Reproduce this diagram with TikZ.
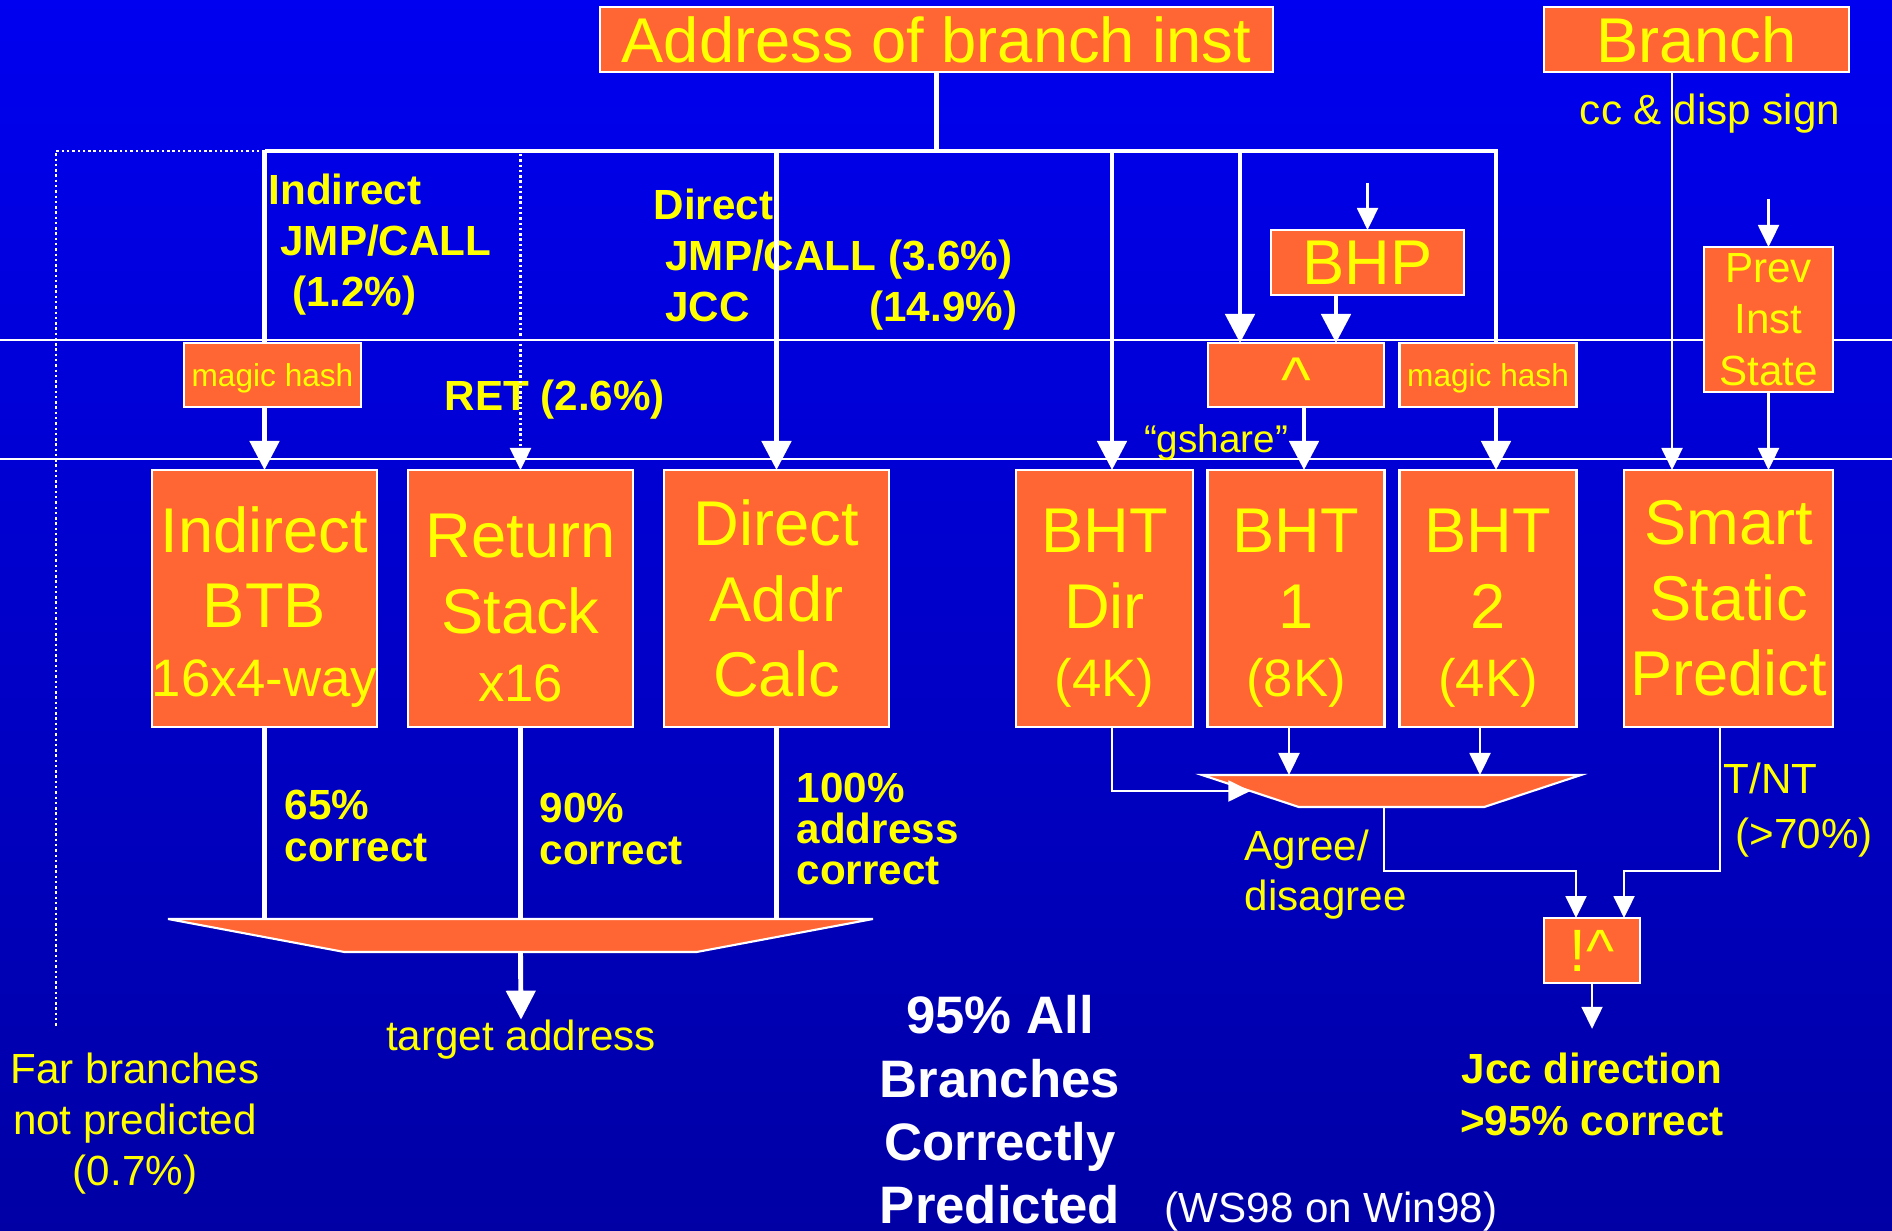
\documentclass[tikz,border=0pt]{standalone}
\usepackage{fontspec}
\setmainfont{Liberation Sans}
\usetikzlibrary{arrows.meta, shapes.geometric}
\definecolor{slideblue}{RGB}{0,0,240}
\definecolor{slidedeep}{RGB}{0,0,165}
\definecolor{unitorange}{RGB}{255,102,51}
\definecolor{labelyellow}{RGB}{255,255,0}
\newcommand{\lowtop}{\rule{0pt}{17.9pt}}

\begin{document}
\begin{tikzpicture}[
  y=-1cm,
  unit/.style={draw=white, fill=unitorange, text=labelyellow, line width=0.6pt, inner sep=0pt, outer sep=0pt, align=center},
  bigunit/.style={unit, font=\fontsize{18}{21.5}\selectfont},
  hashunit/.style={unit, font=\fontsize{9}{11}\selectfont, text depth=0pt, minimum width=1.77cm, minimum height=0.64cm},
  tableunit/.style={bigunit, minimum width=1.77cm, minimum height=2.57cm},
  mux/.style={trapezium, trapezium stretches body=true, draw=white, fill=unitorange, line width=0.6pt, inner xsep=1pt, outer sep=0pt},
  bus/.style={draw=white, line width=1.4pt},
  busarrow/.style={bus, -{Triangle[width=0.29cm, length=0.29cm]}},
  wire/.style={draw=white, line width=0.6pt},
  wirearrow/.style={wire, -{Triangle[width=0.21cm, length=0.22cm]}},
  farwire/.style={wire, line width=0.7pt, dash pattern=on 0.7pt off 0.8pt},
  note/.style={text=labelyellow, font=\bfseries\fontsize{12}{14.5}\selectfont, align=left, inner sep=0pt},
  scorelbl/.style={note, font=\bfseries\fontsize{12}{11.7}\selectfont},
  plain/.style={text=labelyellow, font=\fontsize{12}{14.5}\selectfont, align=left, inner sep=0pt}
]
\useasboundingbox (0,0) rectangle (18.92,12.31);
\shade[top color=slideblue, bottom color=slidedeep] (0,0) rectangle (18.92,12.31);
\draw[white, line width=0.3pt] (0,3.40) -- (18.92,3.40);
\draw[white, line width=0.3pt] (0,4.59) -- (18.92,4.59);

\node[bigunit, minimum width=6.73cm, minimum height=0.65cm] (addr) at (9.365,0.395) {Address of branch inst};
\node[bigunit, minimum width=3.05cm, minimum height=0.65cm] (branch) at (16.965,0.395) {Branch};
\node[hashunit] (hashA) at (2.725,3.75) {magic hash};
\node[bigunit, minimum width=1.93cm, minimum height=0.65cm] (bhp) at (13.675,2.625) {BHP};
\node[bigunit, text height=15pt, text depth=0pt, minimum width=1.76cm, minimum height=0.64cm] (xor) at (12.96,3.75) {\textasciicircum};
\node[hashunit] (hashB) at (14.88,3.75) {magic hash};
\node[unit, font=\fontsize{12}{14.6}\selectfont, minimum width=1.29cm, minimum height=1.45cm] (prev) at (17.685,3.195) {Prev\\Inst\\State};

\node[tableunit, minimum width=2.25cm] (btb) at (2.645,5.985) {\lowtop Indirect\\BTB\\[-2pt]{\fontsize{15}{18}\selectfont 16x4-way}};
\node[tableunit, minimum width=2.25cm] (ras) at (5.205,5.985) {\lowtop Return\\Stack\\[-2pt]{\fontsize{15}{18}\selectfont x16}};
\node[tableunit, minimum width=2.25cm] (dac) at (7.765,5.985) {Direct\\Addr\\Calc};
\foreach \x/\lbl/\id/\sz in {11.045/Dir/bhtDir/4K, 12.96/1/bhtOne/8K, 14.88/2/bhtTwo/4K}
  \node[tableunit] (\id) at (\x,5.985) {\lowtop BHT\\\lbl\\[-2pt]{\fontsize{15}{18}\selectfont(\sz)}};
\node[tableunit, minimum width=2.09cm] (smart) at (17.285,5.985) {Smart\\Static\\Predict};

\node[mux, inner ysep=0.165cm, minimum width=7.05cm, trapezium left angle=169.4, trapezium right angle=169.4] (addrMux) at (5.205,9.355) {};
\node[mux, inner ysep=0.16cm, minimum width=3.79cm, trapezium left angle=161.7, trapezium right angle=161.7] (dirMux) at (13.915,7.91) {};
\node[unit, font=\fontsize{17}{20}\selectfont, minimum width=0.96cm, minimum height=0.65cm] (combine) at (15.92,9.505) {!\textasciicircum};

\node[note, anchor=west] (indLbl) at (2.68,2.45) {Indirect\\\hspace*{0.28em}JMP/CALL\\\hspace*{0.56em}(1.2\%)};
\node[note, anchor=west] (dirLbl) at (6.53,2.60) {Direct\\\hspace*{0.28em}JMP/CALL (3.6\%)\\\hspace*{0.28em}\makebox[2.04cm][l]{JCC}(14.9\%)};
\node[note, anchor=west] (retLbl) at (4.44,4.00) {RET (2.6\%)};
\node[plain] (ccLbl) at (17.10,1.135) {cc \& disp sign};
\node[plain, font=\fontsize{11}{13}\selectfont] (gshareLbl) at (12.16,4.43) {``gshare''};
\node[scorelbl, anchor=west] (btbPct) at (2.84,8.26) {65\%\\correct};
\node[scorelbl, anchor=west] (rasPct) at (5.39,8.29) {90\%\\correct};
\node[scorelbl, anchor=west] (dacPct) at (7.96,8.29) {100\%\\address\\correct};
\node[plain] (tgtLbl) at (5.21,10.40) {target address};
\node[plain, align=center] (farLbl) at (1.35,11.24) {Far branches\\not predicted\\(0.7\%)};
\node[plain, anchor=west, font=\fontsize{12}{14.2}\selectfont] (agreeLbl) at (12.44,8.745) {Agree/\\disagree};
\node[plain, anchor=west, font=\fontsize{12}{15.6}\selectfont] (tntLbl) at (17.23,8.10) {T/NT\\\hspace*{0.28em}(>70\%)};
\node[note, align=center, font=\bfseries\fontsize{12}{14.8}\selectfont] (jccLbl) at (15.92,10.94) {Jcc direction\\>95\% correct};
\node[note, align=center, text=white, font=\bfseries\fontsize{15}{18}\selectfont] (allLbl) at (10.00,11.10) {95\% All\\Branches\\Correctly\\Predicted};
\node[plain, text=white] (wsLbl) at (13.31,12.12) {(WS98 on Win98)};

\coordinate (bus) at (0,1.51);
\coordinate (farEnd) at (0.56,10.28);
\draw[bus] (addr.south) -- (addr.south |- bus);
\draw[bus] (btb.north |- bus) -- ([xshift=0.08cm]hashB.north |- bus) -- ([xshift=0.08cm]hashB.north);
\draw[bus] (btb.north |- bus) -- (btb.north |- hashA.north);
\draw[busarrow] (btb.north |- hashA.south) -- (btb.north);
\draw[farwire] (btb.north |- bus) -| (farEnd);
\draw[farwire, -{Triangle[width=0.21cm, length=0.22cm]}] ([yshift=-0.03cm]ras.north |- bus) -- (ras.north);
\draw[busarrow] (dac.north |- bus) -- (dac.north);
\draw[busarrow] ([xshift=0.075cm]bhtDir.north |- bus) -- ([xshift=0.075cm]bhtDir.north);
\draw[busarrow] ([xshift=-0.56cm]xor.north |- bus) -- ([xshift=-0.56cm]xor.north);
\draw[busarrow] ([xshift=0.40cm]xor.north |- bhp.south) -- ([xshift=0.40cm]xor.north);
\draw[wirearrow] ([yshift=0.47cm]bhp.north) -- (bhp.north);
\draw[busarrow] ([xshift=0.08cm]xor.south) -- ([xshift=0.08cm]bhtOne.north);
\draw[busarrow] ([xshift=0.08cm]hashB.south) -- ([xshift=0.08cm]bhtTwo.north);
\draw[wirearrow] ([xshift=-0.565cm]smart.north |- branch.south) -- ([xshift=-0.565cm]smart.north);
\draw[wirearrow] ([yshift=0.48cm]prev.north) -- (prev.north);
\draw[wirearrow] (prev.south) -- (prev.south |- smart.north);

\foreach \src in {btb, ras, dac}
  \draw[bus] (\src.south) -- (\src.south |- addrMux.north);
\draw[busarrow] (addrMux.south) -- (tgtLbl.north);
\draw[wirearrow] ([xshift=0.075cm]bhtDir.south) |- (dirMux.west);
\draw[wirearrow] ([xshift=-0.07cm]bhtOne.south) -- ([xshift=-0.07cm]bhtOne.south |- dirMux.north);
\draw[wirearrow] ([xshift=-0.08cm]bhtTwo.south) -- ([xshift=-0.08cm]bhtTwo.south |- dirMux.north);
\draw[wirearrow] ([xshift=-0.075cm]dirMux.south) -- ++(0,0.64) -| ([xshift=-0.16cm]combine.north);
\draw[wirearrow] ([xshift=-0.085cm]smart.south) -- ++(0,1.44) -| ([xshift=0.32cm]combine.north);
\draw[wirearrow] (combine.south) -- ([yshift=0.23cm]jccLbl.north);
\end{tikzpicture}
\end{document}
